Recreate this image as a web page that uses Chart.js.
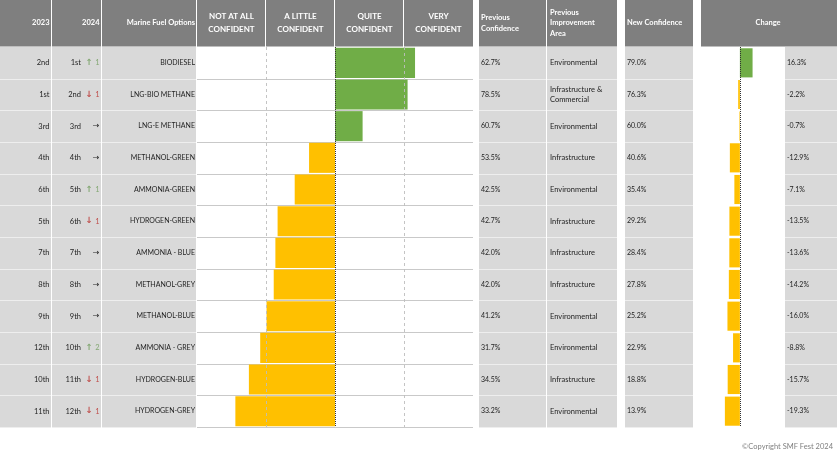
<!DOCTYPE html>
<html>
<head>
<meta charset="utf-8">
<script src="https://cdn.jsdelivr.net/npm/chart.js@4.4.0/dist/chart.umd.min.js"></script>
<style>
  html, body { margin: 0; padding: 0; background: #fff; }
  #wrap { position: relative; width: 837px; height: 474px; }
  canvas { position: absolute; top: 0; }
  #main { left: 0; }
  #change { left: 701px; }
</style>
</head>
<body>
<div id="wrap">
  <canvas id="main" width="837" height="474"></canvas>
  <canvas id="change" width="84" height="474"></canvas>
</div>
<script>
// ========================
// DATA
// ========================
const fuels = [
  'BIODIESEL', 'LNG-BIO METHANE', 'LNG-E METHANE', 'METHANOL-GREEN',
  'AMMONIA-GREEN', 'HYDROGEN-GREEN', 'AMMONIA - BLUE', 'METHANOL-GREY',
  'METHANOL-BLUE', 'AMMONIA - GREY', 'HYDROGEN-BLUE', 'HYDROGEN-GREY'
];
const rank2023 = ['2nd', '1st', '3rd', '4th', '6th', '5th', '7th', '8th', '9th', '12th', '10th', '11th'];
const rank2024 = ['1st', '2nd', '3rd', '4th', '5th', '6th', '7th', '8th', '9th', '10th', '11th', '12th'];
const rankMove = [1, -1, 0, 0, 1, -1, 0, 0, 0, 2, -1, -1];
const prevConfidence = [62.7, 78.5, 60.7, 53.5, 42.5, 42.7, 42.0, 42.0, 41.2, 31.7, 34.5, 33.2];
const prevArea = [
  'Environmental', 'Infrastructure &\nCommercial', 'Environmental', 'Infrastructure',
  'Environmental', 'Infrastructure', 'Infrastructure', 'Infrastructure',
  'Environmental', 'Environmental', 'Infrastructure', 'Environmental'
];
const newConfidence = [79.0, 76.3, 60.0, 40.6, 35.4, 29.2, 28.4, 27.8, 25.2, 22.9, 18.8, 13.9];
const change = [16.3, -2.2, -0.7, -12.9, -7.1, -13.5, -13.6, -14.2, -16.0, -8.8, -15.7, -19.3];
const confidenceLevels = ['NOT AT ALL\nCONFIDENT', 'A LITTLE\nCONFIDENT', 'QUITE\nCONFIDENT', 'VERY\nCONFIDENT'];
const confidenceTicks = [0, 25, 50, 75, 100];
const midpoint = 50;
const changeRange = [-50, 58];

// ========================
// LAYOUT / STYLE
// ========================
const W = 837, H = 474;
const HEAD_H = 46, ROW_TOP = 47, ROW_BOTTOM = 427;
const HEAD_BG = '#7f7f7f', CELL_BG = '#d9d9d9', TEXT = '#1e1e1e';
const GREEN = '#70ad47', ORANGE = '#ffc000';
const FONT = 'Lato, "Open Sans", sans-serif';
const ARROW_FONT = '"DejaVu Sans", sans-serif';

const headCells = [
  [0, 51], [52, 101], [102, 196], [197, 265], [266, 334], [335, 403], [404, 473],
  [479, 546], [547, 617], [625, 693], [701, 837]
];
const grayCells = [[0, 51], [52, 101], [102, 196], [479, 546], [547, 617], [625, 693], [785, 837]];

const barColor = v => (v >= midpoint ? GREEN : ORANGE);

function text(ctx, s, x, y, align, font, color, lh) {
  ctx.save();
  ctx.font = font;
  ctx.fillStyle = color;
  ctx.textAlign = align;
  ctx.textBaseline = 'middle';
  const lines = s.split('\n');
  const start = y - (lines.length - 1) * lh / 2;
  lines.forEach((l, i) => ctx.fillText(l, x, start + i * lh));
  ctx.restore();
}

function rowBounds(scale, i) {
  const h = scale.height / fuels.length;
  return [scale.top + i * h, scale.top + (i + 1) * h];
}

// ========================
// TABLE PLUGIN (main chart)
// ========================
const tablePlugin = {
  id: 'table',
  beforeDraw(chart) {
    const { ctx, scales: { y } } = chart;
    ctx.save();
    ctx.fillStyle = '#fff';
    ctx.fillRect(0, 0, W, H);

    // header
    ctx.fillStyle = HEAD_BG;
    headCells.forEach(([a, b]) => ctx.fillRect(a, 0, b - a, HEAD_H + 0.5));

    // gray body cells
    ctx.fillStyle = CELL_BG;
    grayCells.forEach(([a, b]) => ctx.fillRect(a, y.top, b - a, y.bottom - y.top));

    // row separators
    for (let i = 1; i <= fuels.length; i++) {
      const yy = Math.round(rowBounds(y, i - 1)[1]) + 0.5;
      ctx.lineWidth = 1;
      ctx.strokeStyle = '#eeeeee';
      grayCells.forEach(([a, b]) => {
        ctx.beginPath(); ctx.moveTo(a, yy); ctx.lineTo(b, yy); ctx.stroke();
      });
      ctx.strokeStyle = '#c9c9c9';
      ctx.beginPath(); ctx.moveTo(197, yy); ctx.lineTo(473, yy); ctx.stroke();
    }
    ctx.restore();
  },
  afterDatasetsDraw(chart) {
    const { ctx, scales: { x, y } } = chart;
    ctx.save();
    ctx.lineWidth = 1;
    // dashed quartile lines
    ctx.strokeStyle = 'rgba(190,190,190,0.9)';
    ctx.setLineDash([3, 3]);
    confidenceTicks.filter(t => t !== midpoint && t > 0 && t < 100).forEach(t => {
      const px = Math.round(x.getPixelForValue(t)) + 0.5;
      ctx.beginPath(); ctx.moveTo(px, y.top); ctx.lineTo(px, y.bottom); ctx.stroke();
    });
    // dotted mid line
    ctx.strokeStyle = '#333';
    ctx.setLineDash([1, 1]);
    const mx = Math.round(x.getPixelForValue(midpoint)) + 0.5;
    ctx.beginPath(); ctx.moveTo(mx, y.top); ctx.lineTo(mx, y.bottom); ctx.stroke();
    ctx.restore();
  },
  afterDraw(chart) {
    const { ctx, scales: { x, y } } = chart;
    const hb = `bold 7.5px ${FONT}`;
    const hbc = `bold 8px ${FONT}`;
    const caps = `7px ${FONT}`;
    const body = `7.5px ${FONT}`;
    const hy = HEAD_H / 2;

    // header texts
    text(ctx, '2023', 49.5, hy, 'right', hb, '#fff', 11);
    text(ctx, '2024', 99.5, hy, 'right', hb, '#fff', 11);
    text(ctx, 'Marine Fuel Options', 195, hy, 'right', hb, '#fff', 11);
    confidenceLevels.forEach((lvl, i) => {
      const cx = (x.getPixelForValue(confidenceTicks[i]) + x.getPixelForValue(confidenceTicks[i + 1])) / 2;
      text(ctx, lvl, cx, hy, 'center', hbc, '#fff', 12.5);
    });
    text(ctx, 'Previous\nConfidence', 481, hy, 'left', hb, '#fff', 11);
    text(ctx, 'Previous\nImprovement\nArea', 550, hy, 'left', hb, '#fff', 10.7);
    text(ctx, 'New Confidence', 627, hy, 'left', hb, '#fff', 11);
    text(ctx, 'Change', 768, hy, 'center', hb, '#fff', 11);

    // rows
    fuels.forEach((f, i) => {
      const [t, b] = rowBounds(y, i);
      const cy = (t + b) / 2;
      text(ctx, rank2023[i], 49.5, cy, 'right', body, TEXT, 10);
      text(ctx, rank2024[i], 81, cy, 'right', body, TEXT, 10);
      const mv = rankMove[i];
      if (mv === 0) {
        text(ctx, '→', 99.5, cy, 'right', `8px ${ARROW_FONT}`, TEXT, 10);
      } else {
        const col = mv > 0 ? '#84a874' : '#c0504d';
        text(ctx, mv > 0 ? '↑' : '↓', 89, cy, 'center', `bold 8.5px ${ARROW_FONT}`, col, 10);
        text(ctx, String(Math.abs(mv)), 99.5, cy, 'right', body, col, 10);
      }
      text(ctx, f, 195, cy, 'right', caps, TEXT, 10);
      text(ctx, prevConfidence[i].toFixed(1) + '%', 481, cy, 'left', caps, TEXT, 10);
      text(ctx, prevArea[i], 550, cy, 'left', body, TEXT, 10);
      text(ctx, newConfidence[i].toFixed(1) + '%', 627, cy, 'left', caps, TEXT, 10);
      text(ctx, change[i].toFixed(1) + '%', 787, cy, 'left', caps, TEXT, 10);
    });

    text(ctx, '\u00A9Copyright SMF Fest 2024', 833, 447, 'right', `7.5px ${FONT}`, '#7f7f7f', 10);
  }
};

// ========================
// MAIN CONFIDENCE CHART
// ========================
new Chart(document.getElementById('main'), {
  type: 'bar',
  data: {
    labels: fuels,
    datasets: [{
      data: newConfidence.map(v => [midpoint, v]),
      backgroundColor: newConfidence.map(barColor),
      borderWidth: 0,
      barPercentage: 0.95,
      categoryPercentage: 1
    }]
  },
  options: {
    indexAxis: 'y',
    responsive: false,
    animation: false,
    layout: { padding: { left: 197, right: W - 473, top: ROW_TOP, bottom: H - ROW_BOTTOM } },
    plugins: { legend: { display: false }, tooltip: { enabled: false } },
    scales: {
      x: { min: confidenceTicks[0], max: confidenceTicks[confidenceTicks.length - 1], display: false },
      y: { display: false }
    }
  },
  plugins: [tablePlugin]
});

// ========================
// CHANGE CHART
// ========================
const zeroLine = {
  id: 'zeroLine',
  afterDatasetsDraw(chart) {
    const { ctx, scales: { x, y } } = chart;
    const px = Math.round(x.getPixelForValue(0)) + 0.5;
    ctx.save();
    ctx.strokeStyle = '#333';
    ctx.lineWidth = 1;
    ctx.setLineDash([1, 1]);
    ctx.beginPath(); ctx.moveTo(px, y.top); ctx.lineTo(px, y.bottom); ctx.stroke();
    ctx.restore();
  }
};

new Chart(document.getElementById('change'), {
  type: 'bar',
  data: {
    labels: fuels,
    datasets: [{
      data: change,
      backgroundColor: change.map(v => (v >= 0 ? GREEN : ORANGE)),
      borderWidth: 0,
      barPercentage: 0.92,
      categoryPercentage: 1
    }]
  },
  options: {
    indexAxis: 'y',
    responsive: false,
    animation: false,
    layout: { padding: { left: 0, right: 0, top: ROW_TOP, bottom: H - ROW_BOTTOM } },
    plugins: { legend: { display: false }, tooltip: { enabled: false } },
    scales: {
      x: { min: changeRange[0], max: changeRange[1], display: false },
      y: { display: false }
    }
  },
  plugins: [zeroLine]
});
</script>
</body>
</html>
